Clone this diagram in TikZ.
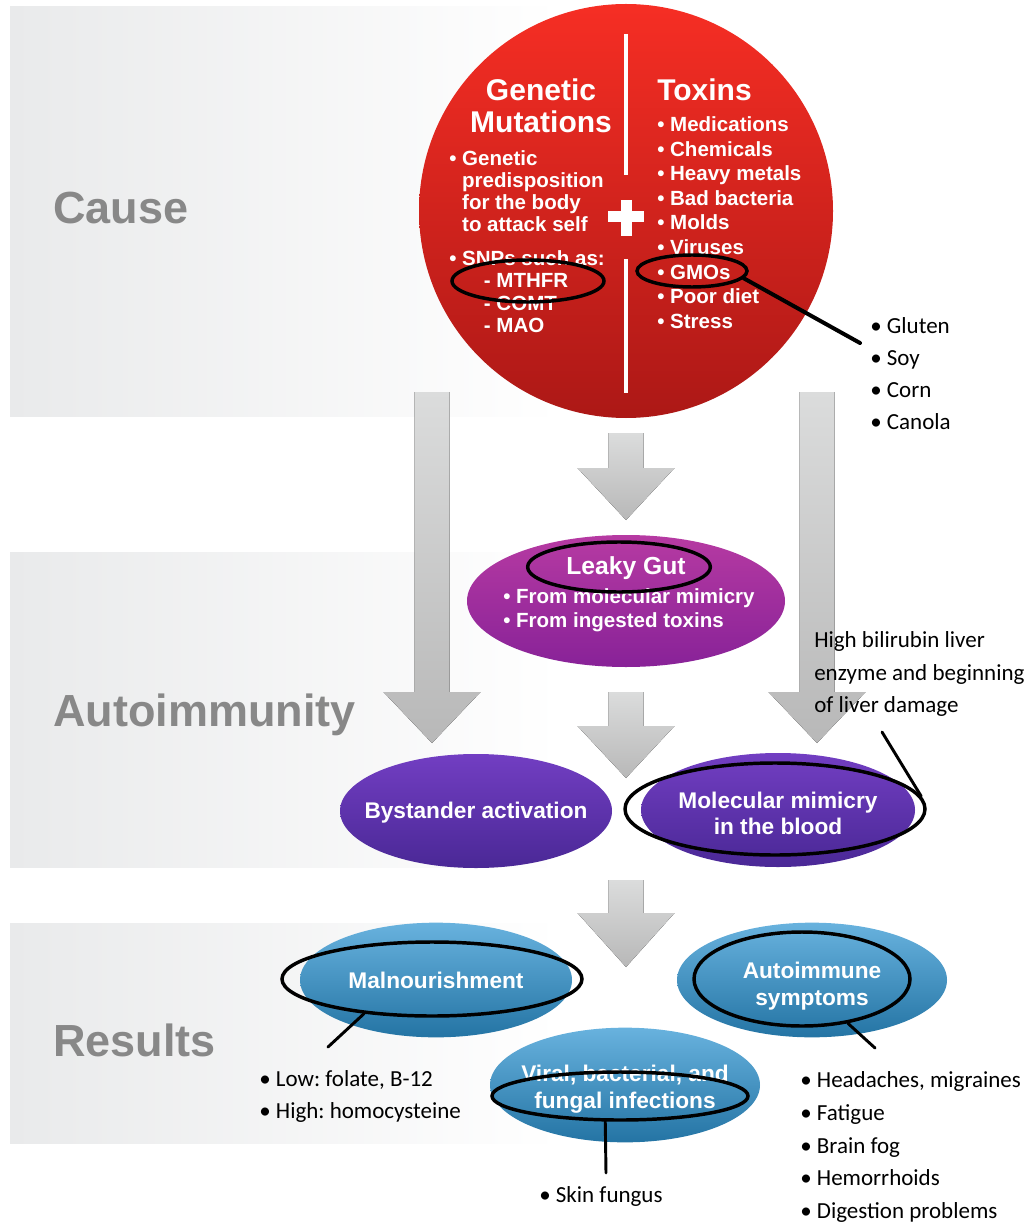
\documentclass[tikz,border=0pt]{standalone}
\usepackage{fontspec}
\setmainfont{Liberation Sans}
\newfontfamily\handfont{Carlito}
\usetikzlibrary{shapes.geometric}
\frenchspacing

\definecolor{bandgray}{RGB}{233,234,235}
\definecolor{labelgray}{RGB}{136,136,136}
\definecolor{arrowtop}{RGB}{219,220,220}
\definecolor{arrowbot}{RGB}{184,184,184}
\definecolor{redtop}{RGB}{246,46,36}
\definecolor{redbot}{RGB}{172,24,22}
\definecolor{magtop}{RGB}{182,58,162}
\definecolor{magbot}{RGB}{136,34,152}
\definecolor{violtop}{RGB}{114,62,194}
\definecolor{violbot}{RGB}{74,40,150}
\definecolor{bluetop}{RGB}{104,178,222}
\definecolor{bluebot}{RGB}{36,116,164}

\tikzset{
  band/.style={left color=bandgray, right color=white},
  blockarrow/.style={top color=arrowtop, bottom color=arrowbot},
  section/.style={text=labelgray, font=\fontsize{33.75}{36}\selectfont\bfseries, anchor=west, inner sep=0.75pt},
  pill/.style={ellipse, inner sep=0pt},
  ring/.style={ellipse, draw=black, line width=2.6pt, inner sep=0pt},
  tail/.style={black, line width=2.2pt, line cap=round},
  whitetext/.style={text=white, font=\fontsize{17}{19.5}\selectfont\bfseries, align=center, inner sep=0.75pt},
  listtext/.style={text=white, font=\fontsize{15.4}{18.45}\selectfont\bfseries, align=left, anchor=west, inner sep=0.75pt},
  hand/.style={text=black, font=\handfont\fontsize{17.25}{24.4}\selectfont, align=left, anchor=west, inner sep=0.75pt},
}

\begin{document}
\begin{tikzpicture}[x=0.75pt,y=0.75pt,yscale=-1,xscale=1]
\useasboundingbox (0,0) rectangle (1029,1226);

%Bands
\fill[band] (10,7) rectangle (560,416);
\fill[band] (10,552) rectangle (560,867);
\fill[band] (10,923) rectangle (560,1143);

% Text Node
\node[section] (cause) at (52,208) {Cause};
% Text Node
\node[section] (autoimmunity) at (52,715) {Autoimmunity};
% Text Node
\node[section] (results) at (52,1040) {Results};

%Block arrows
\foreach \cx/\ty/\ny/\tipy in {432/392/692/743, 626/433/468/520, 626/692/726/778, 817/392/692/743, 626/880/913/967}
  \fill[blockarrow] (\cx-17.5,\ty) -- (\cx+17.5,\ty) -- (\cx+17.5,\ny) -- (\cx+48.5,\ny) -- (\cx,\tipy) -- (\cx-48.5,\ny) -- (\cx-17.5,\ny) -- cycle;

%Cause circle
\node[circle, inner sep=0pt, minimum size=310.5pt, top color=redtop, bottom color=redbot] (causecircle) at (626,211) {};
\draw[white, line width=3pt] (626,34) -- (626,175);
\draw[white, line width=3pt] (626,259) -- (626,393);
\draw[white, line width=8.25pt] (608,217) -- (644,217);
\draw[white, line width=8.25pt] (626,200) -- (626,236);

% Text Node
\node[whitetext, font=\fontsize{22.5}{24}\selectfont\bfseries] (genetichead) at (541,106) {Genetic\\Mutations};
% Text Node
\node[listtext, font=\fontsize{15.4}{16.5}\selectfont\bfseries] (geneticlist) at (448,191) {• Genetic\\\phantom{• }predisposition\\\phantom{• }for the body\\\phantom{• }to attack self};
% Text Node
\node[listtext, font=\fontsize{15.4}{16.75}\selectfont\bfseries] (snplist) at (448,291.5) {• SNPs such as:\\\hspace*{26pt}- MTHFR\\\hspace*{26pt}- COMT\\\hspace*{26pt}- MAO};
% Text Node
\node[whitetext, anchor=west, font=\fontsize{22.5}{24}\selectfont\bfseries] (toxinshead) at (656,90) {Toxins};
% Text Node
\node[listtext] (toxinslist) at (656,222.5) {• Medications\\• Chemicals\\• Heavy metals\\• Bad bacteria\\• Molds\\• Viruses\\• GMOs\\• Poor diet\\• Stress};

%Autoimmunity ovals
\node[pill, minimum width=238.5pt, minimum height=99pt, top color=magtop, bottom color=magbot] (leakygut) at (626,601) {};
\node[pill, minimum width=204pt, minimum height=85.5pt, top color=violtop, bottom color=violbot] (bystander) at (476,811) {};
\node[pill, minimum width=205.5pt, minimum height=85.5pt, top color=violtop, bottom color=violbot] (mimicry) at (778,810) {};

% Text Node
\node[whitetext, font=\fontsize{18.5}{20}\selectfont\bfseries] (leakyhead) at (626,568) {Leaky Gut};
% Text Node
\node[listtext, font=\fontsize{15.4}{18}\selectfont\bfseries] (leakylist) at (502,610) {• From molecular mimicry\\• From ingested toxins};
% Text Node
\node[whitetext] (bystandertext) at (476,813) {Bystander activation};
% Text Node
\node[whitetext] (mimicrytext) at (778,813) {Molecular mimicry\\in the blood};

%Results ovals
\node[pill, minimum width=204pt, minimum height=86pt, top color=bluetop, bottom color=bluebot] (malnourish) at (436,980) {};
\node[pill, minimum width=202.5pt, minimum height=86pt, top color=bluetop, bottom color=bluebot] (symptoms) at (812,980) {};
\node[pill, minimum width=202.5pt, minimum height=86pt, top color=bluetop, bottom color=bluebot] (infections) at (625,1085) {};

% Text Node
\node[whitetext] (malnourishtext) at (malnourish) {Malnourishment};
% Text Node
\node[whitetext, font=\fontsize{17}{20.25}\selectfont\bfseries] (symptomstext) at (812,986) {Autoimmune\\symptoms};
% Text Node
\node[whitetext, font=\fontsize{17}{20.25}\selectfont\bfseries] (infectionstext) at (625,1089) {Viral, bacterial, and\\fungal infections};

%Hand notes
% Text Node
\node[hand, font=\handfont\fontsize{17.25}{24.2}\selectfont] (gmonotes) at (869,373.5) {• Gluten\\• Soy\\• Corn\\• Canola};
% Text Node
\node[hand] (livernote) at (813,674) {High bilirubin liver\\enzyme and beginning\\of liver damage};
% Text Node
\node[hand, font=\handfont\fontsize{17.25}{24}\selectfont] (malnotes) at (258,1096) {• Low: folate, B-12\\• High: homocysteine};
% Text Node
\node[hand] (infectionnotes) at (538,1196) {• Skin fungus};
% Text Node
\node[hand, font=\handfont\fontsize{17.25}{24.6}\selectfont] (symptomnotes) at (799,1147) {• Headaches, migraines\\• Fatigue\\• Brain fog\\• Hemorrhoids\\• Digestion problems};

%Rings
\node[ring, minimum width=114pt, minimum height=31.5pt] (mthfrring) at (528,281) {};
\node[ring, minimum width=82.5pt, minimum height=24pt] (gmoring) at (692,271) {};
\node[ring, minimum width=137pt, minimum height=37.5pt] (leakyring) at (619,567) {};
\node[ring, minimum width=225pt, minimum height=69pt] (mimicryring) at (775,809) {};
\node[ring, minimum width=225pt, minimum height=55.5pt] (malring) at (432,979) {};
\node[ring, minimum width=162pt, minimum height=70.5pt] (symptomring) at (802,979) {};
\node[ring, minimum width=192pt, minimum height=36pt] (infectionring) at (620,1096) {};

%Tails
\coordinate (gmotip) at (860,343);
\coordinate (livertip) at (882,732);
\coordinate (maltip) at (328,1047);
\coordinate (symptomtip) at (875,1048);
\coordinate (infectiontip) at (606,1173);
\draw[tail, line width=3pt] (gmoring.-8) -- (gmotip);
\draw[tail] (mimicryring.5) -- (livertip);
\draw[tail] (malring.-153) -- (maltip);
\draw[tail] (symptomring.-44) -- (symptomtip);
\draw[tail] (infectionring.-120) -- (infectiontip);

\end{tikzpicture}
\end{document}
